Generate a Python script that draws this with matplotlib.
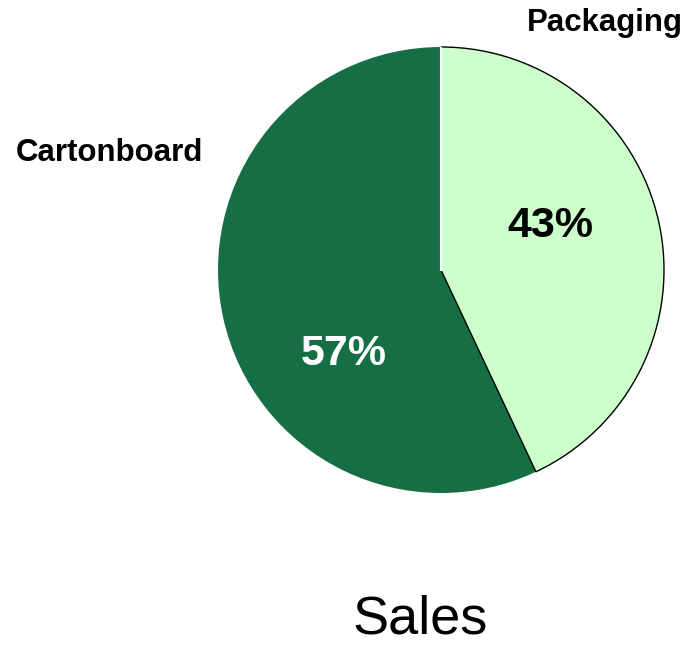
import numpy as np
import matplotlib.pyplot as plt

# data
labels = ["Packaging", "Cartonboard"]
shares = [43, 57]
colors = ["#CCFFCC", "#166E45"]
pct_colors = ["black", "white"]

plt.rcParams['font.family'] = ['Liberation Sans', 'DejaVu Sans']

fig = plt.figure(figsize=(6.88, 6.5), dpi=100)
ax = fig.add_axes([218/688, (650-493)/650, 446/688, 446/650])

wedges, _ = ax.pie(shares, colors=colors, startangle=90, counterclock=False,
                   wedgeprops=dict(linewidth=0))
# light slice has a thin black outline
wedges[0].set_edgecolor("black")
wedges[0].set_linewidth(1.0)
wedges[1].set_zorder(0)
# white seam along the top boundary
t = np.deg2rad(wedges[0].theta2)
ax.plot([0, np.cos(t)], [0, np.sin(t)], color="white", lw=1.5, zorder=5)

ax.set_xlim(-1, 1)
ax.set_ylim(-1, 1)
ax.set_aspect("equal")

# percentages inside the slices (radius, angle in degrees)
pct_pos = [(0.53, 21.8), (0.575, 220.9)]
for s, c, (r, a) in zip(shares, pct_colors, pct_pos):
    a = np.deg2rad(a)
    ax.text(r * np.cos(a), r * np.sin(a), f"{s}%", color=c,
            fontsize=31, fontweight="bold", ha="center", va="center")

# outside labels
fig.text(605/688, 1 - 23/650, labels[0], fontsize=22.5, fontweight="bold",
         ha="center", va="center")
fig.text(109/688, 1 - 153/650, labels[1], fontsize=22.5, fontweight="bold",
         ha="center", va="center")

fig.text(420/688, 1 - 620/650, "Sales", fontsize=39, ha="center", va="center")

fig.savefig("out.png", dpi=100)
